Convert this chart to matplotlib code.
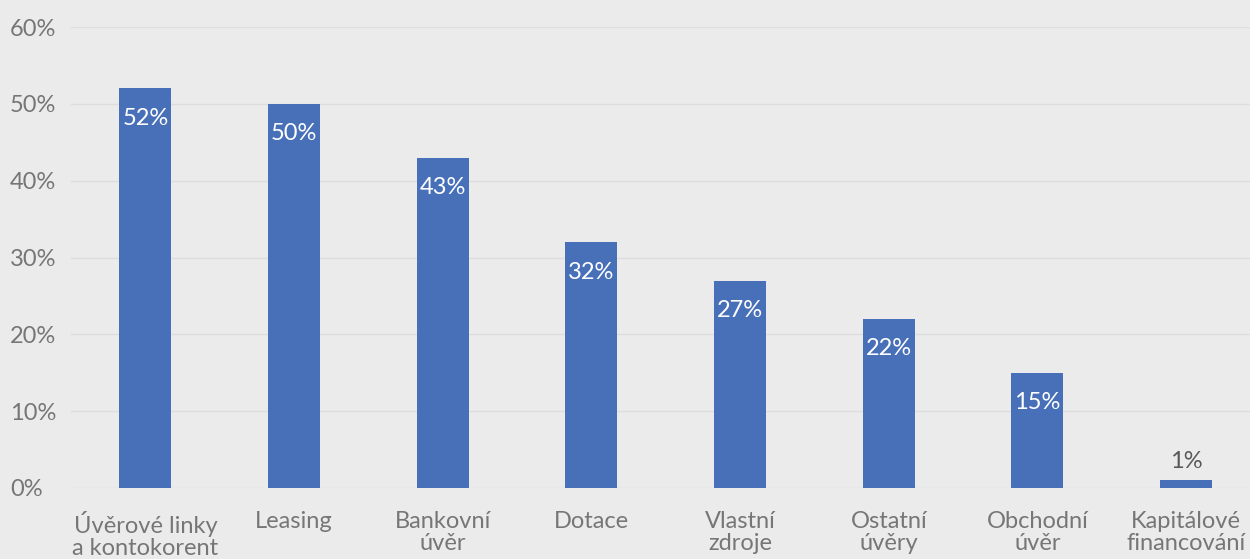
import matplotlib
matplotlib.use("Agg")
import matplotlib.pyplot as plt

categories = ["Úvěrové linky\na kontokorent", "Leasing", "Bankovní\núvěr", "Dotace",
              "Vlastní\nzdroje", "Ostatní\núvěry", "Obchodní\núvěr", "Kapitálové\nfinancování"]
values = [52, 50, 43, 32, 27, 22, 15, 1]
yticks = [0, 10, 20, 30, 40, 50, 60]

plt.rcParams['font.family'] = ['Lato', 'DejaVu Sans']
bg = "#ebebeb"
txt = "#767676"

fig = plt.figure(figsize=(12.5, 5.59), dpi=100, facecolor=bg)
ax = fig.add_axes([71/1250, 1-488/559, (1250-71)/1250, (488-27)/559])
ax.set_facecolor(bg)
x = list(range(len(categories)))
bars = ax.bar(x, values, width=0.35, color="#4870b9", zorder=3)
ax.set_xlim(-0.5, 7.43)
ax.set_ylim(0, 60)
ax.set_yticks(yticks)
ax.set_yticklabels([f"{v}%" for v in yticks], fontsize=17, color=txt)
ax.set_xticks(x)
ax.set_xticklabels(categories, fontsize=17, color=txt, linespacing=1.05)
ax.tick_params(axis='both', length=0)
ax.tick_params(axis='x', pad=16.5)
ax.tick_params(axis='y', pad=44)
for lab in ax.get_yticklabels():
    lab.set_horizontalalignment('left')
ax.grid(axis='y', color="#dddddd", linewidth=1, zorder=0)
for s in ax.spines.values():
    s.set_visible(False)

for xi, v in zip(x, values):
    if v >= 5:
        ax.annotate(f"{v}%", (xi, v), xytext=(0, -30), textcoords='offset pixels',
                    ha='center', va='center', color='white', fontsize=17, zorder=4)
    else:
        ax.annotate(f"{v}%", (xi, v), xytext=(0, 19), textcoords='offset pixels',
                    ha='center', va='center', color='#595959', fontsize=17, zorder=4)

fig.savefig("out.png", dpi=100, facecolor=bg)
